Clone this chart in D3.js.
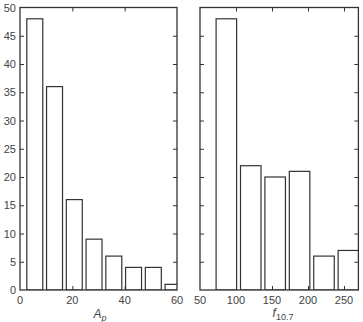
<!DOCTYPE html>
<html>
<head>
<meta charset="utf-8">
<script src="https://cdn.jsdelivr.net/npm/d3@7"></script>
<style>
  html, body { margin: 0; padding: 0; background: #fff; }
  svg { display: block; font-family: "Liberation Sans", Arial, sans-serif; }
</style>
</head>
<body>
<svg id="chart" width="363" height="322"></svg>
<script>
// ---- data ----
const apCenters = [5.65, 13.2, 20.75, 28.3, 35.85, 43.4, 50.95, 58.5];
const apCounts  = [48, 36, 16, 9, 6, 4, 4, 1];
const apBarWidth = 6.1;
const apTicks = [0, 20, 40, 60];

const fCenters = [86.6, 120.5, 154.4, 188.3, 222.2, 256.1];
const fCounts  = [48, 22, 20, 21, 6, 7];
const fBarWidth = 28.5;
const fTicks = [50, 100, 150, 200, 250];

const yTicks = [0, 5, 10, 15, 20, 25, 30, 35, 40, 45, 50];

// ---- layout ----
const svg = d3.select("#chart");
const plotTop = 7.5, plotBottom = 290;
const y = d3.scaleLinear().domain([0, 50]).range([plotBottom, plotTop]);
const ink = "#333";
const textCol = "#444";
const tickLen = 4;

function panel(id, x0, x1, domain, centers, counts, bw, xticks, showYLabels) {
  const x = d3.scaleLinear().domain(domain).range([x0, x1]);
  const g = svg.append("g");
  const clipId = "clip-" + id;
  svg.append("clipPath").attr("id", clipId)
    .append("rect").attr("x", x0).attr("y", plotTop).attr("width", x1 - x0).attr("height", plotBottom - plotTop);

  // bars
  g.append("g").attr("clip-path", `url(#${clipId})`)
    .selectAll("rect").data(centers).join("rect")
    .attr("x", (c) => x(c - bw / 2))
    .attr("width", (c) => x(c + bw / 2) - x(c - bw / 2))
    .attr("y", (c, i) => y(counts[i]))
    .attr("height", (c, i) => y(0) - y(counts[i]))
    .attr("fill", "#fff").attr("stroke", ink).attr("stroke-width", 1.2);

  // inward ticks with d3 axes
  const innerY = yTicks.filter(t => t > 0 && t < 50);
  const axL = g.append("g").attr("transform", `translate(${x0},0)`)
    .call(d3.axisRight(y).tickValues(innerY).tickSize(tickLen).tickFormat(""));
  const axR = g.append("g").attr("transform", `translate(${x1},0)`)
    .call(d3.axisLeft(y).tickValues(innerY).tickSize(tickLen).tickFormat(""));
  const innerX = xticks.filter(t => t > domain[0] && t < domain[1]);
  const axB = g.append("g").attr("transform", `translate(0,${plotBottom})`)
    .call(d3.axisTop(x).tickValues(innerX).tickSize(tickLen).tickFormat(""));
  const axT = g.append("g").attr("transform", `translate(0,${plotTop})`)
    .call(d3.axisBottom(x).tickValues(innerX).tickSize(tickLen).tickFormat(""));
  [axL, axR, axB, axT].forEach(a => {
    a.select(".domain").remove();
    a.selectAll("line").attr("stroke", ink).attr("stroke-width", 1);
  });

  // frame
  g.append("rect").attr("x", x0).attr("y", plotTop).attr("width", x1 - x0).attr("height", plotBottom - plotTop)
    .attr("fill", "none").attr("stroke", ink).attr("stroke-width", 1.3);

  // x tick labels
  g.append("g").selectAll("text").data(xticks).join("text")
    .attr("x", d => x(d)).attr("y", plotBottom + 14)
    .attr("text-anchor", "middle").attr("font-size", 11).attr("fill", textCol)
    .text(d => d);

  if (showYLabels) {
    g.append("g").selectAll("text").data(yTicks).join("text")
      .attr("x", x0 - 4).attr("y", d => y(d) + 4)
      .attr("text-anchor", "end").attr("font-size", 11).attr("fill", textCol)
      .text(d => d);
  }
  return x;
}

panel("ap", 20, 177, [0, 60], apCenters, apCounts, apBarWidth, apTicks, true);
panel("f", 200, 358.4, [50, 270], fCenters, fCounts, fBarWidth, fTicks, false);

// axis titles
const t1 = svg.append("text").attr("x", 100).attr("y", 318).attr("text-anchor", "middle")
  .attr("font-size", 12).attr("fill", textCol);
t1.append("tspan").attr("font-style", "italic").text("A");
t1.append("tspan").attr("font-style", "italic").attr("font-size", 9).attr("dy", 3).text("p");

const t2 = svg.append("text").attr("x", 283).attr("y", 317).attr("text-anchor", "middle")
  .attr("font-size", 12).attr("fill", textCol);
t2.append("tspan").attr("font-style", "italic").text("f");
t2.append("tspan").attr("font-size", 9).attr("dy", 3).text("10.7");
</script>
</body>
</html>
